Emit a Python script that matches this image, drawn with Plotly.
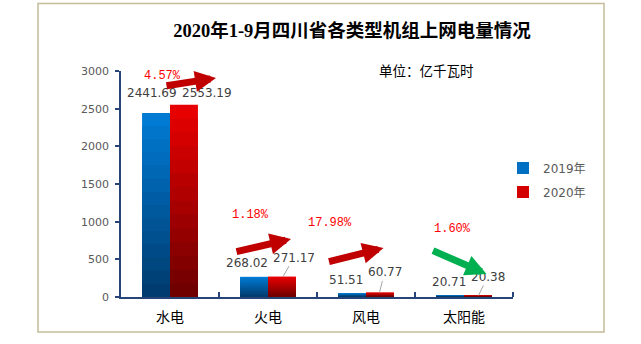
import plotly.graph_objects as go

categories = ["水电", "火电", "风电", "太阳能"]
v2019 = [2441.69, 268.02, 51.51, 20.71]
v2020 = [2553.19, 271.17, 60.77, 20.38]
pct_labels = ["4.57%", "1.18%", "17.98%", "1.60%"]
pct_up = [True, True, True, False]

L, R, T, B = 121, 128, 71, 47
W, H = 641, 344
PW = W - L - R
PH = H - T - B
YMAX = 3000.0
def ydat(p):  # pixel row -> data value
    return (T + PH - p) / PH * YMAX
def ypap(p):  # pixel row -> paper fraction
    return (T + PH - p) / PH

xs = list(range(len(categories)))
BW = 0.285
N = 14

def interp(c1, c2, t):
    return "rgb(%d,%d,%d)" % tuple(round(a + (b - a) * t) for a, b in zip(c1, c2))

fig = go.Figure()
series = [
    ("2019年", v2019, -BW, (0, 122, 210), (0, 60, 112)),
    ("2020年", v2020, 0.0, (230, 0, 0), (112, 0, 0)),
]
for gi, (name, vals, off, ctop, cbot) in enumerate(series):
    for i in range(N):
        frac = 1 - i / N
        fig.add_trace(go.Bar(
            x=xs, y=[v * frac for v in vals], width=BW, offset=off,
            marker=dict(color=interp(ctop, cbot, i / (N - 1)), line=dict(width=0)),
            name=name, showlegend=(i == 2), legendgroup=name,
            hoverinfo="skip" if i else "y",
        ))

ann = []
lab19 = [(-18, 20), (-21, 14), (-20.5, 13), (-15.5, 13)]
lab20 = [(37, 12), (26, 19), (18.5, 20), (23.5, 18.5)]
lead20 = [None, (15, 11, -19), (13.5, 5, -20), (14.5, 9, -18.5)]
lblfont = dict(family="DejaVu Sans", size=12, color="#404040")
for i in xs:
    dx, dy = lab19[i]
    ann.append(dict(x=i + dx / 98, y=v2019[i], text=f"{v2019[i]:.2f}",
                    showarrow=False, yshift=dy, font=lblfont))
    if lead20[i] is None:
        dx, dy = lab20[i]
        ann.append(dict(x=i + dx / 98, y=v2020[i], text=f"{v2020[i]:.2f}",
                        showarrow=False, yshift=dy, font=lblfont))
    else:
        px, ax, ay = lead20[i]
        ann.append(dict(x=i + px / 98, y=v2020[i], text=f"{v2020[i]:.2f}",
                        showarrow=True, arrowhead=0, arrowwidth=1, arrowcolor="#A6A6A6",
                        ax=ax, ay=ay, standoff=0, font=lblfont))

pct_pos = [(-8, 67), (-18, 224), (-36.5, 232), (-11.5, 238)]
arrows = [((-5, 86), (46, 78)), ((-33, 252), (23, 239)), ((-38.5, 262), (17.5, 248)), ((-32.5, 250), (22.5, 274))]
for i in xs:
    dx, py = pct_pos[i]
    ann.append(dict(x=i + dx / 98, y=ypap(py), yref="paper", text=pct_labels[i], showarrow=False,
                    font=dict(family="Liberation Mono", size=12, color="#FF0000")))
    (tx, ty), (hx, hy) = arrows[i]
    ann.append(dict(x=i + hx / 98, y=ydat(hy), ax=i + tx / 98, ay=ydat(ty),
                    axref="x", ayref="y", text="", showarrow=True,
                    arrowhead=2, arrowsize=0.6, arrowwidth=7,
                    arrowcolor="#C00000" if pct_up[i] else "#00B050"))

ann.append(dict(xref="paper", yref="paper", x=(476 - L) / PW, y=ypap(58),
                text="单位：亿千瓦时", showarrow=False,
                font=dict(family="Noto Sans CJK SC", size=13.5, color="#000000")))

axcol = "#264478"
fig.update_layout(
    width=W, height=H,
    margin=dict(l=L, r=R, t=T, b=B),
    paper_bgcolor="white", plot_bgcolor="white",
    barmode="overlay",
    title=dict(text="<b>2020年1-9月四川省各类型机组上网电量情况</b>",
               x=352 / W, xanchor="center", y=1 - 31 / H, yanchor="middle",
               font=dict(family="Liberation Serif, Noto Sans CJK SC", size=18.5, color="#000000")),
    xaxis=dict(range=[-0.5, 3.5], tickvals=xs, ticktext=categories, ticks="",
               showline=True, linecolor=axcol, linewidth=1.5, showgrid=False, zeroline=False,
               tickfont=dict(family="Noto Sans CJK SC", size=14, color="#000000"),
               ticklabelstandoff=6,
               minor=dict(tickvals=[0.5, 1.5, 2.5, 3.5], ticks="inside", ticklen=5,
                          tickcolor=axcol, tickwidth=1.5, showgrid=False)),
    yaxis=dict(range=[0, YMAX], tickvals=[0, 500, 1000, 1500, 2000, 2500, 3000],
               ticks="outside", ticklen=4, tickcolor=axcol, tickwidth=1.5,
               showline=True, linecolor=axcol, linewidth=1.5, showgrid=False, zeroline=False,
               tickfont=dict(family="DejaVu Sans", size=11, color="#595959"),
               ticklabelstandoff=4),
    legend=dict(x=(503 - L) / PW, xanchor="left", y=ypap(180), yanchor="middle",
                font=dict(family="DejaVu Sans, Noto Sans CJK SC", size=12, color="#595959"),
                tracegroupgap=5, bgcolor="rgba(0,0,0,0)"),
    annotations=ann,
    shapes=[dict(type="rect", xref="paper", yref="paper",
                 x0=(38 - L) / PW, x1=(604 - L) / PW,
                 y0=ypap(332), y1=ypap(3.5),
                 line=dict(color="#C4BD97", width=1.5), fillcolor="rgba(0,0,0,0)", layer="below")],
    showlegend=True,
)
fig.write_html("out.html")
